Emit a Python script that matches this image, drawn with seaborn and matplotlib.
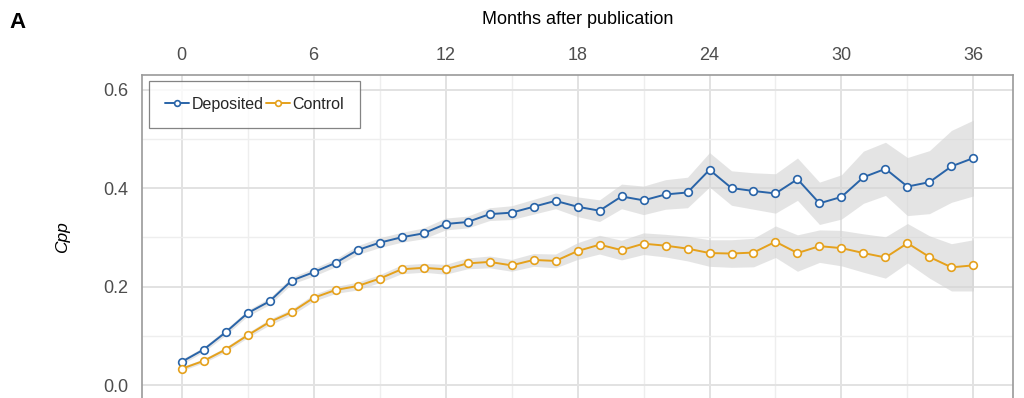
import matplotlib
matplotlib.use("Agg")
import matplotlib.pyplot as plt
import numpy as np
import pandas as pd
import seaborn as sns
from matplotlib.ticker import MultipleLocator

# months after publication
months = list(range(37))

# Cpp, deposited papers
deposited = [0.047, 0.072, 0.107, 0.146, 0.170, 0.212, 0.229, 0.248, 0.274, 0.289,
             0.300, 0.308, 0.327, 0.331, 0.347, 0.350, 0.362, 0.374, 0.362, 0.354,
             0.383, 0.375, 0.387, 0.391, 0.437, 0.400, 0.394, 0.389, 0.418, 0.369,
             0.382, 0.422, 0.439, 0.403, 0.412, 0.444, 0.461]
deposited_ci = [0.005, 0.005, 0.006, 0.006, 0.007, 0.007, 0.008, 0.008, 0.009, 0.010,
                0.010, 0.011, 0.012, 0.012, 0.013, 0.014, 0.015, 0.016, 0.020, 0.022,
                0.025, 0.029, 0.030, 0.031, 0.035, 0.035, 0.037, 0.040, 0.043, 0.043,
                0.045, 0.053, 0.054, 0.059, 0.064, 0.073, 0.077]

# Cpp, control papers
control = [0.033, 0.049, 0.072, 0.101, 0.128, 0.148, 0.177, 0.193, 0.201, 0.216,
           0.235, 0.238, 0.235, 0.247, 0.250, 0.243, 0.254, 0.252, 0.272, 0.285,
           0.274, 0.287, 0.283, 0.277, 0.268, 0.267, 0.269, 0.291, 0.268, 0.282,
           0.278, 0.268, 0.259, 0.288, 0.260, 0.239, 0.243]
control_ci = [0.004, 0.004, 0.005, 0.005, 0.006, 0.006, 0.007, 0.007, 0.008, 0.008,
              0.009, 0.009, 0.010, 0.011, 0.012, 0.012, 0.013, 0.014, 0.017, 0.019,
              0.020, 0.022, 0.023, 0.025, 0.027, 0.028, 0.029, 0.032, 0.037, 0.033,
              0.036, 0.039, 0.042, 0.040, 0.043, 0.048, 0.052]

series_names = ["Deposited", "Control"]
colors = ["#2964a8", "#e5a11c"]

sns.set_theme(style="white")
plt.rcParams['font.family'] = ['Liberation Sans', 'DejaVu Sans']

fig = plt.figure(figsize=(10.24, 3.98), dpi=100)
ax = fig.add_axes([0.1387, -0.0045, 0.8506, 0.8166])

for name, vals, ci, col in zip(series_names, [deposited, control],
                               [deposited_ci, control_ci], colors):
    df = pd.DataFrame({"month": months, "cpp": vals, "ci": ci})
    ax.fill_between(df["month"], df["cpp"] - df["ci"], df["cpp"] + df["ci"],
                    color="#d3d3d3", alpha=0.6, linewidth=0, zorder=1)
    sns.lineplot(data=df, x="month", y="cpp", color=col, label=name, ax=ax,
                 marker="o", markersize=5.5, markerfacecolor="white",
                 markeredgecolor=col, markeredgewidth=1.2, linewidth=1.4,
                 zorder=3, legend=False)

ax.set_xlim(-1.8, 37.8)
ax.set_ylim(-0.03, 0.63)
ax.xaxis.set_major_locator(MultipleLocator(6))
ax.xaxis.set_minor_locator(MultipleLocator(3))
ax.yaxis.set_major_locator(MultipleLocator(0.2))
ax.yaxis.set_minor_locator(MultipleLocator(0.1))
ax.yaxis.set_major_formatter(matplotlib.ticker.FormatStrFormatter('%.1f'))

ax.xaxis.tick_top()
ax.xaxis.set_label_position("top")
ax.grid(which="major", color="#e2e2e2", linewidth=1.4, zorder=0)
ax.grid(which="minor", color="#eeeeee", linewidth=1.0, zorder=0)
ax.set_axisbelow(True)
ax.tick_params(axis="both", which="both", length=0, labelsize=13,
               labelcolor="#4d4d4d")
ax.tick_params(axis="x", pad=8)
ax.tick_params(axis="y", pad=10)

for sp in ax.spines.values():
    sp.set_color("#9a9a9a")
    sp.set_linewidth(1.2)

ax.set_xlabel("Months after publication", fontsize=13, labelpad=16, color="black")
ax.set_ylabel("Cpp", fontsize=12.5, style="italic", labelpad=24, color="black")

leg = ax.legend(loc="upper left", bbox_to_anchor=(0.008, 0.981), borderaxespad=0,
                ncol=2, fontsize=11.5, frameon=True, fancybox=False,
                handlelength=1.5, handletextpad=0.15, columnspacing=0.15,
                borderpad=1.0, markerscale=0.75)
leg.get_frame().set_edgecolor("#666666")
leg.get_frame().set_linewidth(0.9)

fig.text(0.009, 0.93, "A", fontsize=16, fontweight="bold", color="black")

fig.savefig("out.png", dpi=100)
